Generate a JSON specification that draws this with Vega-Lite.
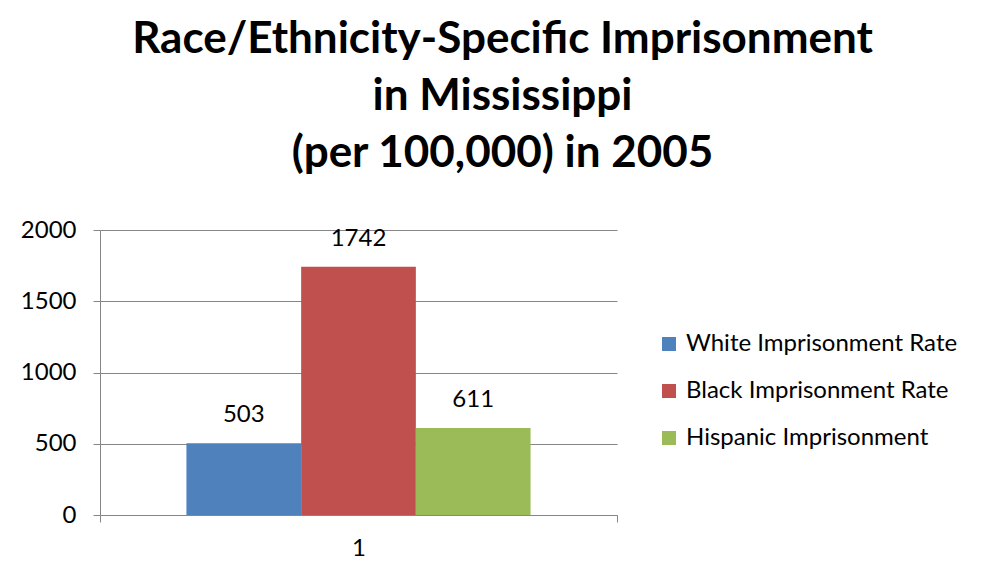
{
  "$schema": "https://vega.github.io/schema/vega-lite/v6.json",
  "autosize": {"type": "none"},
  "padding": {"left": 100, "top": 230, "right": 373, "bottom": 68},
  "width": 517,
  "height": 285,
  "background": "white",
  "title": {
    "text": ["Race/Ethnicity-Specific Imprisonment", "in Mississippi", "(per 100,000) in 2005"],
    "font": "Lato",
    "fontSize": 44,
    "fontWeight": "bold",
    "color": "#000000",
    "lineHeight": 57,
    "anchor": "middle",
    "frame": "group",
    "dx": 144,
    "offset": 42
  },
  "data": {
    "values": [
      {"category": "1", "series": "White Imprisonment Rate", "value": 503},
      {"category": "1", "series": "Black Imprisonment Rate", "value": 1742},
      {"category": "1", "series": "Hispanic Imprisonment", "value": 611}
    ]
  },
  "encoding": {
    "x": {
      "field": "category",
      "type": "nominal",
      "scale": {"paddingInner": 0, "paddingOuter": 0},
      "axis": {
        "title": null,
        "labelAngle": 0,
        "labelFont": "Lato",
        "labelFontSize": 24,
        "labelColor": "#000000",
        "labelPadding": 14,
        "domainColor": "#868686",
        "tickColor": "#868686",
        "tickSize": 7,
        "tickBand": "extent",
        "grid": false
      }
    },
    "xOffset": {
      "field": "series",
      "type": "nominal",
      "sort": null,
      "scale": {"paddingInner": 0, "paddingOuter": 0.7535}
    },
    "y": {
      "field": "value",
      "type": "quantitative",
      "scale": {"domain": [0, 2000], "nice": false},
      "axis": {
        "title": null,
        "values": [0, 500, 1000, 1500, 2000],
        "format": "d",
        "labelFont": "Lato",
        "labelFontSize": 24,
        "labelColor": "#000000",
        "labelPadding": 17,
        "domainColor": "#868686",
        "tickColor": "#868686",
        "tickSize": 7,
        "gridColor": "#868686",
        "gridWidth": 1
      }
    }
  },
  "layer": [
    {
      "mark": {"type": "bar"},
      "encoding": {
        "color": {
          "field": "series",
          "type": "nominal",
          "sort": null,
          "scale": {
            "domain": ["White Imprisonment Rate", "Black Imprisonment Rate", "Hispanic Imprisonment"],
            "range": ["#4F81BD", "#C0504D", "#9BBB59"]
          },
          "legend": {
            "title": null,
            "orient": "none",
            "legendX": 557,
            "legendY": 102,
            "symbolType": "square",
            "symbolSize": 196,
            "symbolStrokeWidth": 0,
            "labelFont": "Lato",
            "labelFontSize": 24,
            "labelLimit": 0,
            "labelColor": "#000000",
            "labelOffset": 5,
            "rowPadding": 23
          }
        }
      }
    },
    {
      "mark": {"type": "text", "baseline": "bottom", "dy": -16, "font": "Lato", "fontSize": 24, "color": "#000000"},
      "encoding": {
        "text": {"field": "value", "type": "quantitative"}
      }
    }
  ],
  "config": {
    "view": {"stroke": null}
  }
}
